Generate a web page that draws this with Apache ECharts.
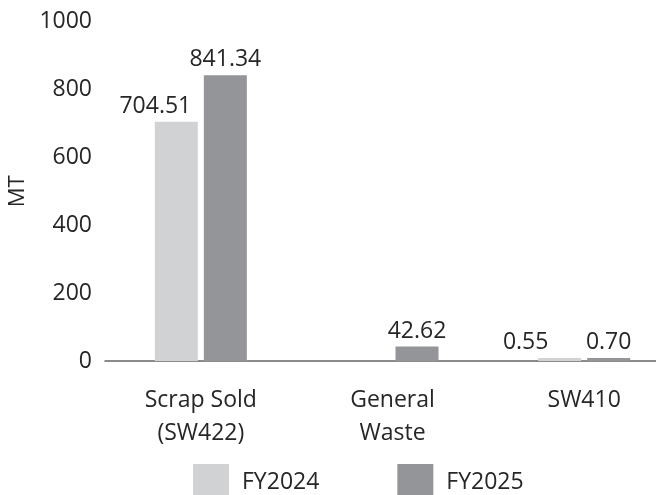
<!DOCTYPE html>
<html>
<head>
<meta charset="utf-8">
<script src="https://cdn.jsdelivr.net/npm/echarts@6/dist/echarts.min.js"></script>
<style>
  html, body { margin: 0; padding: 0; background: #fff; }
  #chart { width: 656px; height: 495px; }
</style>
</head>
<body>
<div id="chart"></div>
<script>
// Waste generated by category, in metric tonnes
const categories = ['Scrap Sold\n(SW422)', 'General\nWaste', 'SW410'];
const seriesNames = ['FY2024', 'FY2025'];
const fy2024 = [704.51, null, 0.55];
const fy2025 = [841.34, 42.62, 0.70];
const yTicks = { min: 0, max: 1000, interval: 200 };

const FONT = 'Open Sans';
const SIZE = 23;
const TEXT = '#262626';
const colors = ['#d1d2d4', '#939598'];

// horizontal nudges so neighbouring value labels do not collide
const labelNudge = [
  { 0: -21, 2: -34 },
  {}
];

function buildData(values, sIdx) {
  return values.map((v, i) => {
    const item = { value: v };
    if (labelNudge[sIdx][i] !== undefined) {
      item.label = { offset: [labelNudge[sIdx][i], 0] };
    }
    return item;
  });
}

const chart = echarts.init(document.getElementById('chart'), null, { renderer: 'canvas' });

const option = {
  backgroundColor: '#ffffff',
  animation: false,
  textStyle: { fontFamily: FONT, color: TEXT },
  grid: {
    left: 105, top: 21.5, width: 575, bottom: 134,
    containLabel: false, outerBoundsMode: 'none'
  },
  legend: {
    data: seriesNames,
    left: 193,
    top: 464,
    padding: 0,
    itemWidth: 36,
    itemHeight: 36,
    itemGap: 78,
    icon: 'rect',
    textStyle: { fontFamily: FONT, fontSize: SIZE, color: TEXT, padding: [6, 0, 0, 8] }
  },
  xAxis: {
    type: 'category',
    data: categories,
    axisLine: { show: true, lineStyle: { color: '#666666', width: 1.5 } },
    axisTick: { show: false },
    axisLabel: { fontFamily: FONT, fontSize: SIZE, color: TEXT, margin: 23, lineHeight: 33 }
  },
  yAxis: {
    type: 'value',
    min: yTicks.min,
    max: yTicks.max,
    interval: yTicks.interval,
    name: 'MT',
    nameLocation: 'middle',
    nameGap: 69,
    nameTextStyle: { fontFamily: FONT, fontSize: SIZE - 1, color: TEXT },
    axisLine: { show: false },
    axisTick: { show: false },
    splitLine: { show: false },
    axisLabel: {
      fontFamily: FONT, fontSize: SIZE, color: TEXT, margin: 13,
      formatter: v => String(v)
    }
  },
  series: [fy2024, fy2025].map((vals, s) => ({
    name: seriesNames[s],
    type: 'bar',
    data: buildData(vals, s),
    barWidth: 43,
    barGap: '14%',
    barMinHeight: 3,
    itemStyle: { color: colors[s] },
    label: {
      show: true,
      position: 'top',
      distance: 4,
      fontFamily: FONT,
      fontSize: SIZE,
      color: TEXT,
      formatter: p => (p.value == null ? '' : Number(p.value).toFixed(2))
    }
  }))
};

chart.setOption(option);
</script>
</body>
</html>
